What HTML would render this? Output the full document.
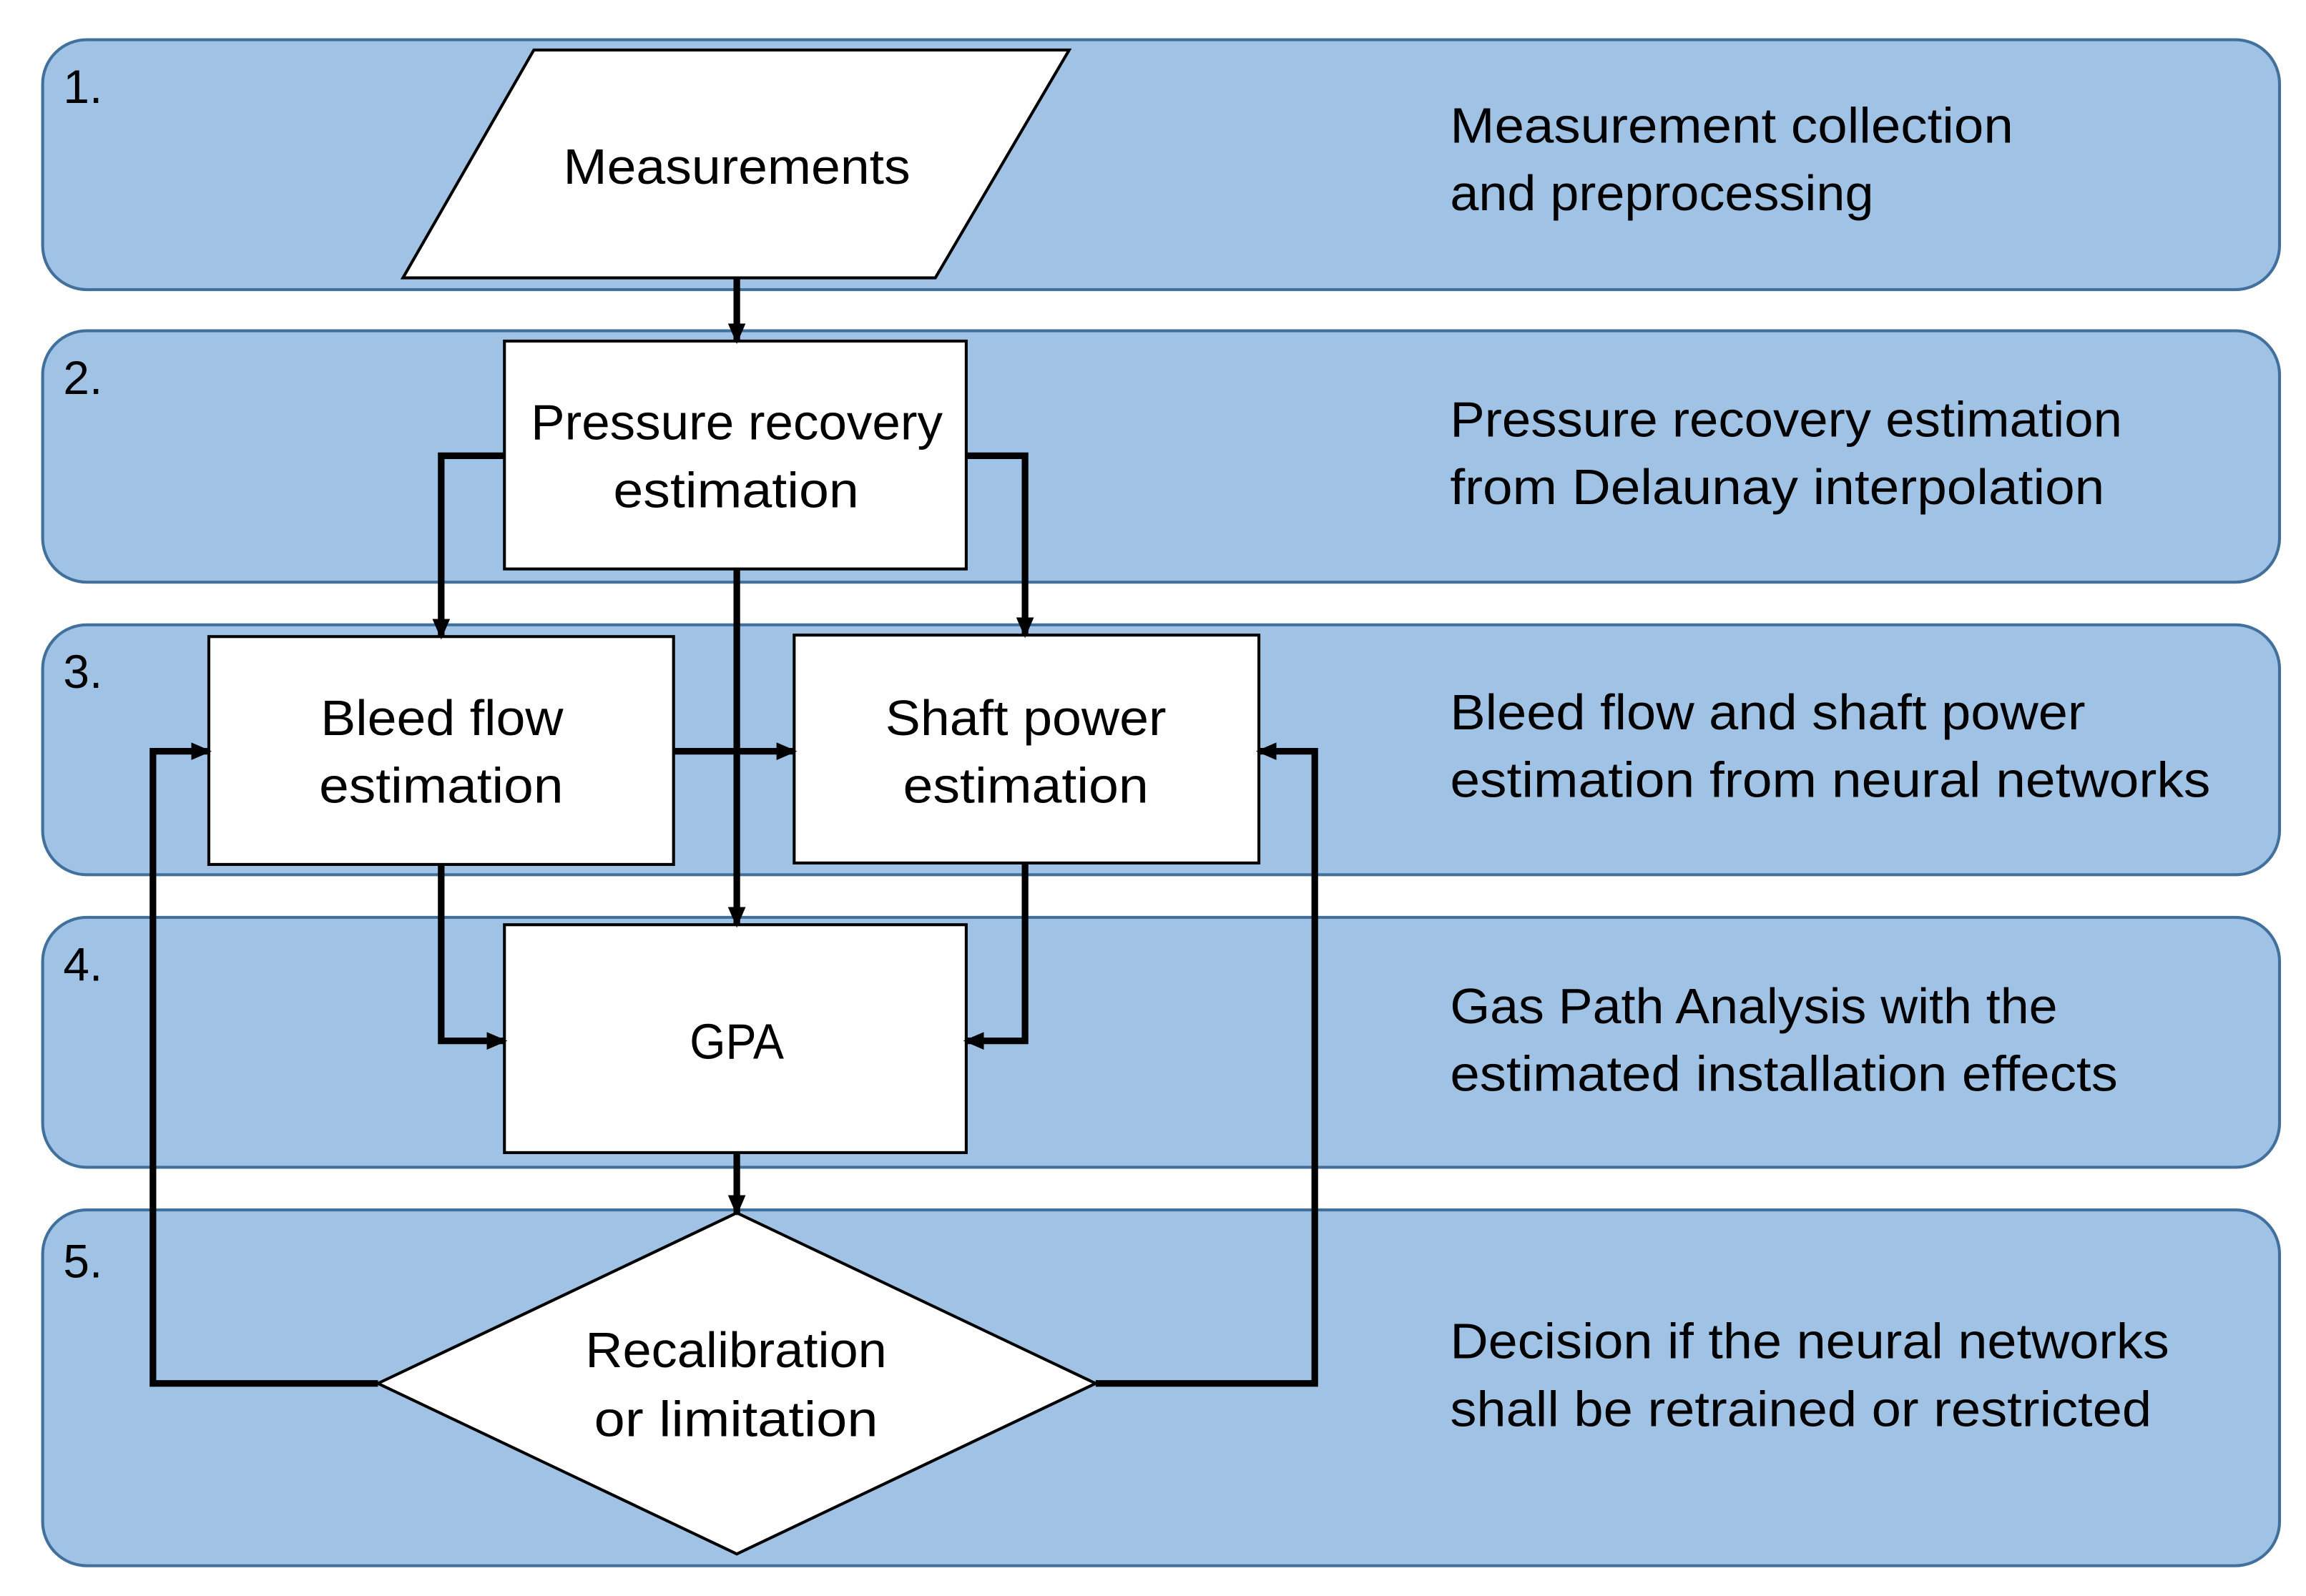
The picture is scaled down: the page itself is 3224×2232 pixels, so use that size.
<!DOCTYPE html>
<html><head><meta charset="utf-8"><style>
html,body{margin:0;padding:0;background:#fff;}
svg{display:block;}
text{font-family:"Liberation Sans",sans-serif;fill:#000;}
</style></head><body>
<svg width="3224" height="2232" viewBox="0 0 1568 1085.6" preserveAspectRatio="none" xmlns="http://www.w3.org/2000/svg">
<defs>
<marker id="a" markerWidth="14" markerHeight="12" refX="12" refY="6" orient="auto" markerUnits="userSpaceOnUse"><path d="M0,0 L14,6 L0,12 Z" fill="#000"/></marker>
</defs>
<g fill="#a0c3e5" stroke="#41709c" stroke-width="2">
<rect x="29" y="27" width="1521" height="170" rx="30"/>
<rect x="29" y="225" width="1521" height="171" rx="30"/>
<rect x="29" y="425" width="1521" height="170" rx="30"/>
<rect x="29" y="624" width="1521" height="170" rx="30"/>
<rect x="29" y="823" width="1521" height="242" rx="30"/>
</g>
<g font-size="32">
<text x="43" y="70">1.</text>
<text x="43" y="268">2.</text>
<text x="43" y="468">3.</text>
<text x="43" y="667">4.</text>
<text x="43" y="869">5.</text>
</g>
<g font-size="34">
<text x="986" y="97" textLength="383" lengthAdjust="spacingAndGlyphs">Measurement collection</text>
<text x="986" y="143" textLength="288" lengthAdjust="spacingAndGlyphs">and preprocessing</text>
<text x="986" y="297" textLength="457" lengthAdjust="spacingAndGlyphs">Pressure recovery estimation</text>
<text x="986" y="343" textLength="445" lengthAdjust="spacingAndGlyphs">from Delaunay interpolation</text>
<text x="986" y="496" textLength="432" lengthAdjust="spacingAndGlyphs">Bleed flow and shaft power</text>
<text x="986" y="542" textLength="517" lengthAdjust="spacingAndGlyphs">estimation from neural networks</text>
<text x="986" y="696" textLength="413" lengthAdjust="spacingAndGlyphs">Gas Path Analysis with the</text>
<text x="986" y="742" textLength="454" lengthAdjust="spacingAndGlyphs">estimated installation effects</text>
<text x="986" y="924" textLength="489" lengthAdjust="spacingAndGlyphs">Decision if the neural networks</text>
<text x="986" y="970" textLength="477" lengthAdjust="spacingAndGlyphs">shall be retrained or restricted</text>
</g>
<g fill="#fff" stroke="#000" stroke-width="2">
<polygon points="363,34 727,34 636,189 274,189"/>
<rect x="343" y="232" width="314" height="155"/>
<rect x="142" y="433" width="316" height="155"/>
<rect x="540" y="432" width="316" height="155"/>
<rect x="343" y="629" width="314" height="155"/>
<polygon points="501,825 745,941 501,1057 257,941"/>
</g>
<g font-size="34">
<text x="383" y="125" textLength="236" lengthAdjust="spacingAndGlyphs">Measurements</text>
<text x="361" y="299" textLength="280" lengthAdjust="spacingAndGlyphs">Pressure recovery</text>
<text x="417" y="345" textLength="167" lengthAdjust="spacingAndGlyphs">estimation</text>
<text x="218" y="500" textLength="165" lengthAdjust="spacingAndGlyphs">Bleed flow</text>
<text x="217" y="546" textLength="166" lengthAdjust="spacingAndGlyphs">estimation</text>
<text x="602" y="500" textLength="191" lengthAdjust="spacingAndGlyphs">Shaft power</text>
<text x="614" y="546" textLength="167" lengthAdjust="spacingAndGlyphs">estimation</text>
<text x="469" y="720" textLength="64" lengthAdjust="spacingAndGlyphs">GPA</text>
<text x="398" y="930" textLength="205" lengthAdjust="spacingAndGlyphs">Recalibration</text>
<text x="404" y="977" textLength="193" lengthAdjust="spacingAndGlyphs">or limitation</text>
</g>
<g fill="none" stroke="#000" stroke-width="4.5" marker-end="url(#a)">
<path d="M501,189 V232"/>
<path d="M343,310 H300 V433"/>
<path d="M657,310 H697 V432"/>
<path d="M501,387 V629"/>
<path d="M458,511 H540"/>
<path d="M300,588 V708 H343"/>
<path d="M697,587 V708 H657"/>
<path d="M501,784 V825"/>
<path d="M257,941 H104 V511 H142"/>
<path d="M745,941 H894 V511 H856"/>
</g>
</svg>
</body></html>
